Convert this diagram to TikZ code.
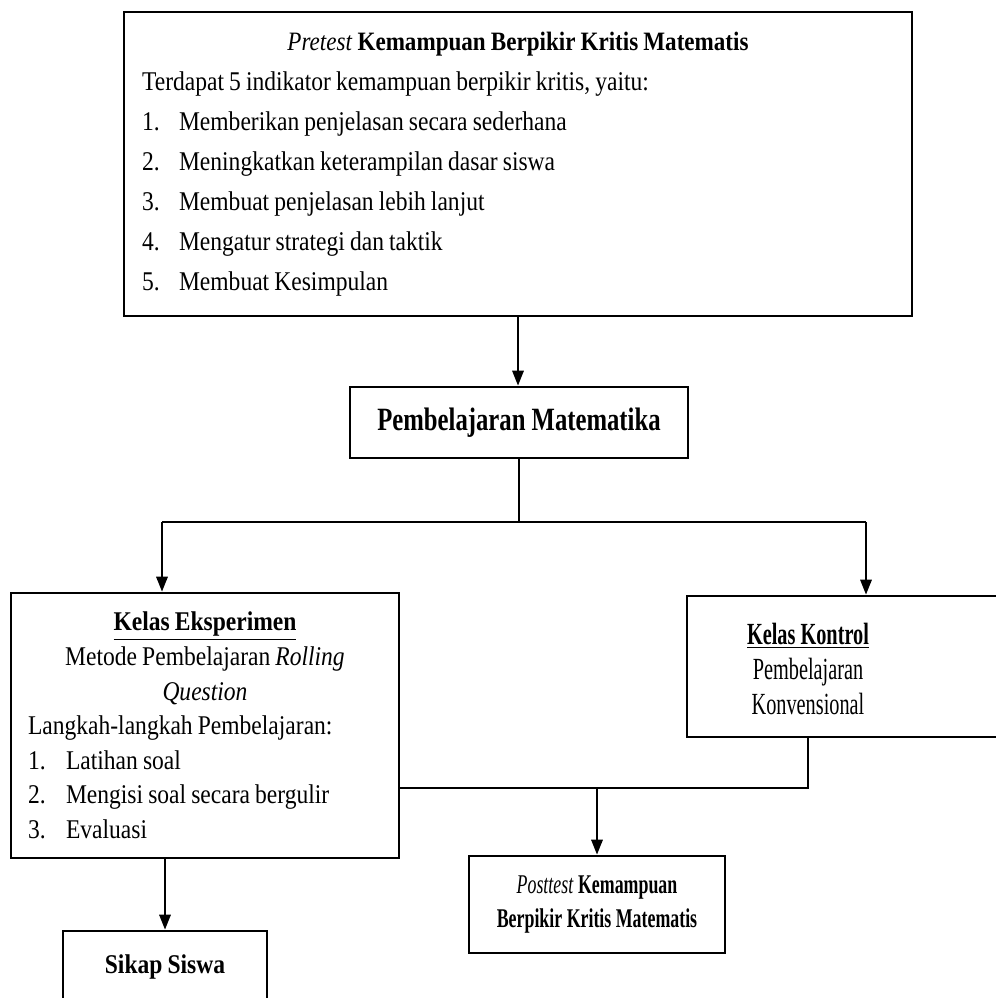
\documentclass[tikz,border=0pt]{standalone}
\usepackage{fontspec}
\setmainfont{Liberation Serif}[FakeStretch=0.87]
\newfontfamily\midfont{Liberation Serif}[FakeStretch=0.76]
\newfontfamily\narrowfont{Liberation Serif}[FakeStretch=0.66]
\newcommand\tightsp{\spaceskip=2.9pt plus 1pt\relax}
\usetikzlibrary{arrows.meta}

\begin{document}
\begin{tikzpicture}[x=0.02cm,y=-0.02cm,>={Triangle[length=8.5pt,width=6.5pt]},
  box/.style={draw,line width=1.6pt,inner sep=0pt},
  link/.style={line width=1.1pt}]
% pixel grid of the reference, y grows downwards
\useasboundingbox (0,0) rectangle (995,998);
\node[box,text width=15.04cm,inner xsep=0.36cm,minimum height=6.08cm,align=left,
  font=\fontsize{15.4}{22.8}\selectfont] (pre) at (518,164) {\tightsp
  \makebox[15.04cm]{\fontsize{15.1}{22.8}\selectfont\tightsp\textit{Pretest} \textbf{Kemampuan Berpikir Kritis Matematis}}\\
  Terdapat 5 indikator kemampuan berpikir kritis, yaitu:\\
  \makebox[0.74cm][l]{1.}Memberikan penjelasan secara sederhana\\
  \makebox[0.74cm][l]{2.}Meningkatkan keterampilan dasar siswa\\
  \makebox[0.74cm][l]{3.}Membuat penjelasan lebih lanjut\\
  \makebox[0.74cm][l]{4.}Mengatur strategi dan taktik\\
  \makebox[0.74cm][l]{5.}Membuat Kesimpulan};
\node[box,minimum width=6.76cm,minimum height=1.42cm,
  font=\midfont\fontsize{18.5}{22}\selectfont\bfseries] (bel) at (519,422.5)
  {Pembelajaran Matematika};
\node[box,text width=7.08cm,inner xsep=0.34cm,minimum height=5.3cm,align=left,
  font=\fontsize{15.4}{19.7}\selectfont] (eks) at (205,725.5) {\tightsp
  \makebox[7.08cm]{\textbf{\underline{Kelas Eksperimen}}}\\
  \makebox[7.08cm]{Metode Pembelajaran \textit{Rolling}}\\
  \makebox[7.08cm]{\textit{Question}}\\
  Langkah-langkah Pembelajaran:\\
  \makebox[0.76cm][l]{1.}Latihan soal\\
  \makebox[0.76cm][l]{2.}Mengisi soal secara bergulir\\
  \makebox[0.76cm][l]{3.}Evaluasi};
\node[box,minimum width=6.46cm,minimum height=2.82cm] (kon) at (848.5,666.5) {};
\node[align=center,font=\narrowfont\fontsize{17.5}{19.7}\selectfont] (kontxt) at (808,669)
  {\textbf{\underline{Kelas Kontrol}}\\Pembelajaran\\Konvensional};
\node[box,minimum width=5.12cm,minimum height=1.94cm,align=center,
  font=\narrowfont\fontsize{15.4}{19.7}\selectfont\bfseries] (post) at (597,904.5)
  {\textit{\mdseries Posttest} Kemampuan\\Berpikir Kritis Matematis};
\node[box,minimum width=4.08cm,minimum height=1.42cm,
  font=\fontsize{15.4}{20}\selectfont\bfseries\tightsp] (sikap) at (165,966.5) {Sikap Siswa};
% connectors
\coordinate (split) at (519,522);
\coordinate (eksin) at (162,522);
\coordinate (konin) at (866,522);
\coordinate (join) at (kontxt |- 0,788);
\draw[link,->] (pre.south) -- (pre.south |- bel.north);
\draw[link] (bel.south) -- (split);
\draw[link] (eksin) -- (konin);
\draw[link,->] (eksin) -- (eksin |- eks.north);
\draw[link,->] (konin) -- (konin |- kon.north);
\draw[link] (kontxt |- kon.south) -- (join) -- (eks.east |- join);
\draw[link,->] (post.north |- join) -- (post.north);
\draw[link,->] (sikap.north |- eks.south) -- (sikap.north);
\end{tikzpicture}
\end{document}
